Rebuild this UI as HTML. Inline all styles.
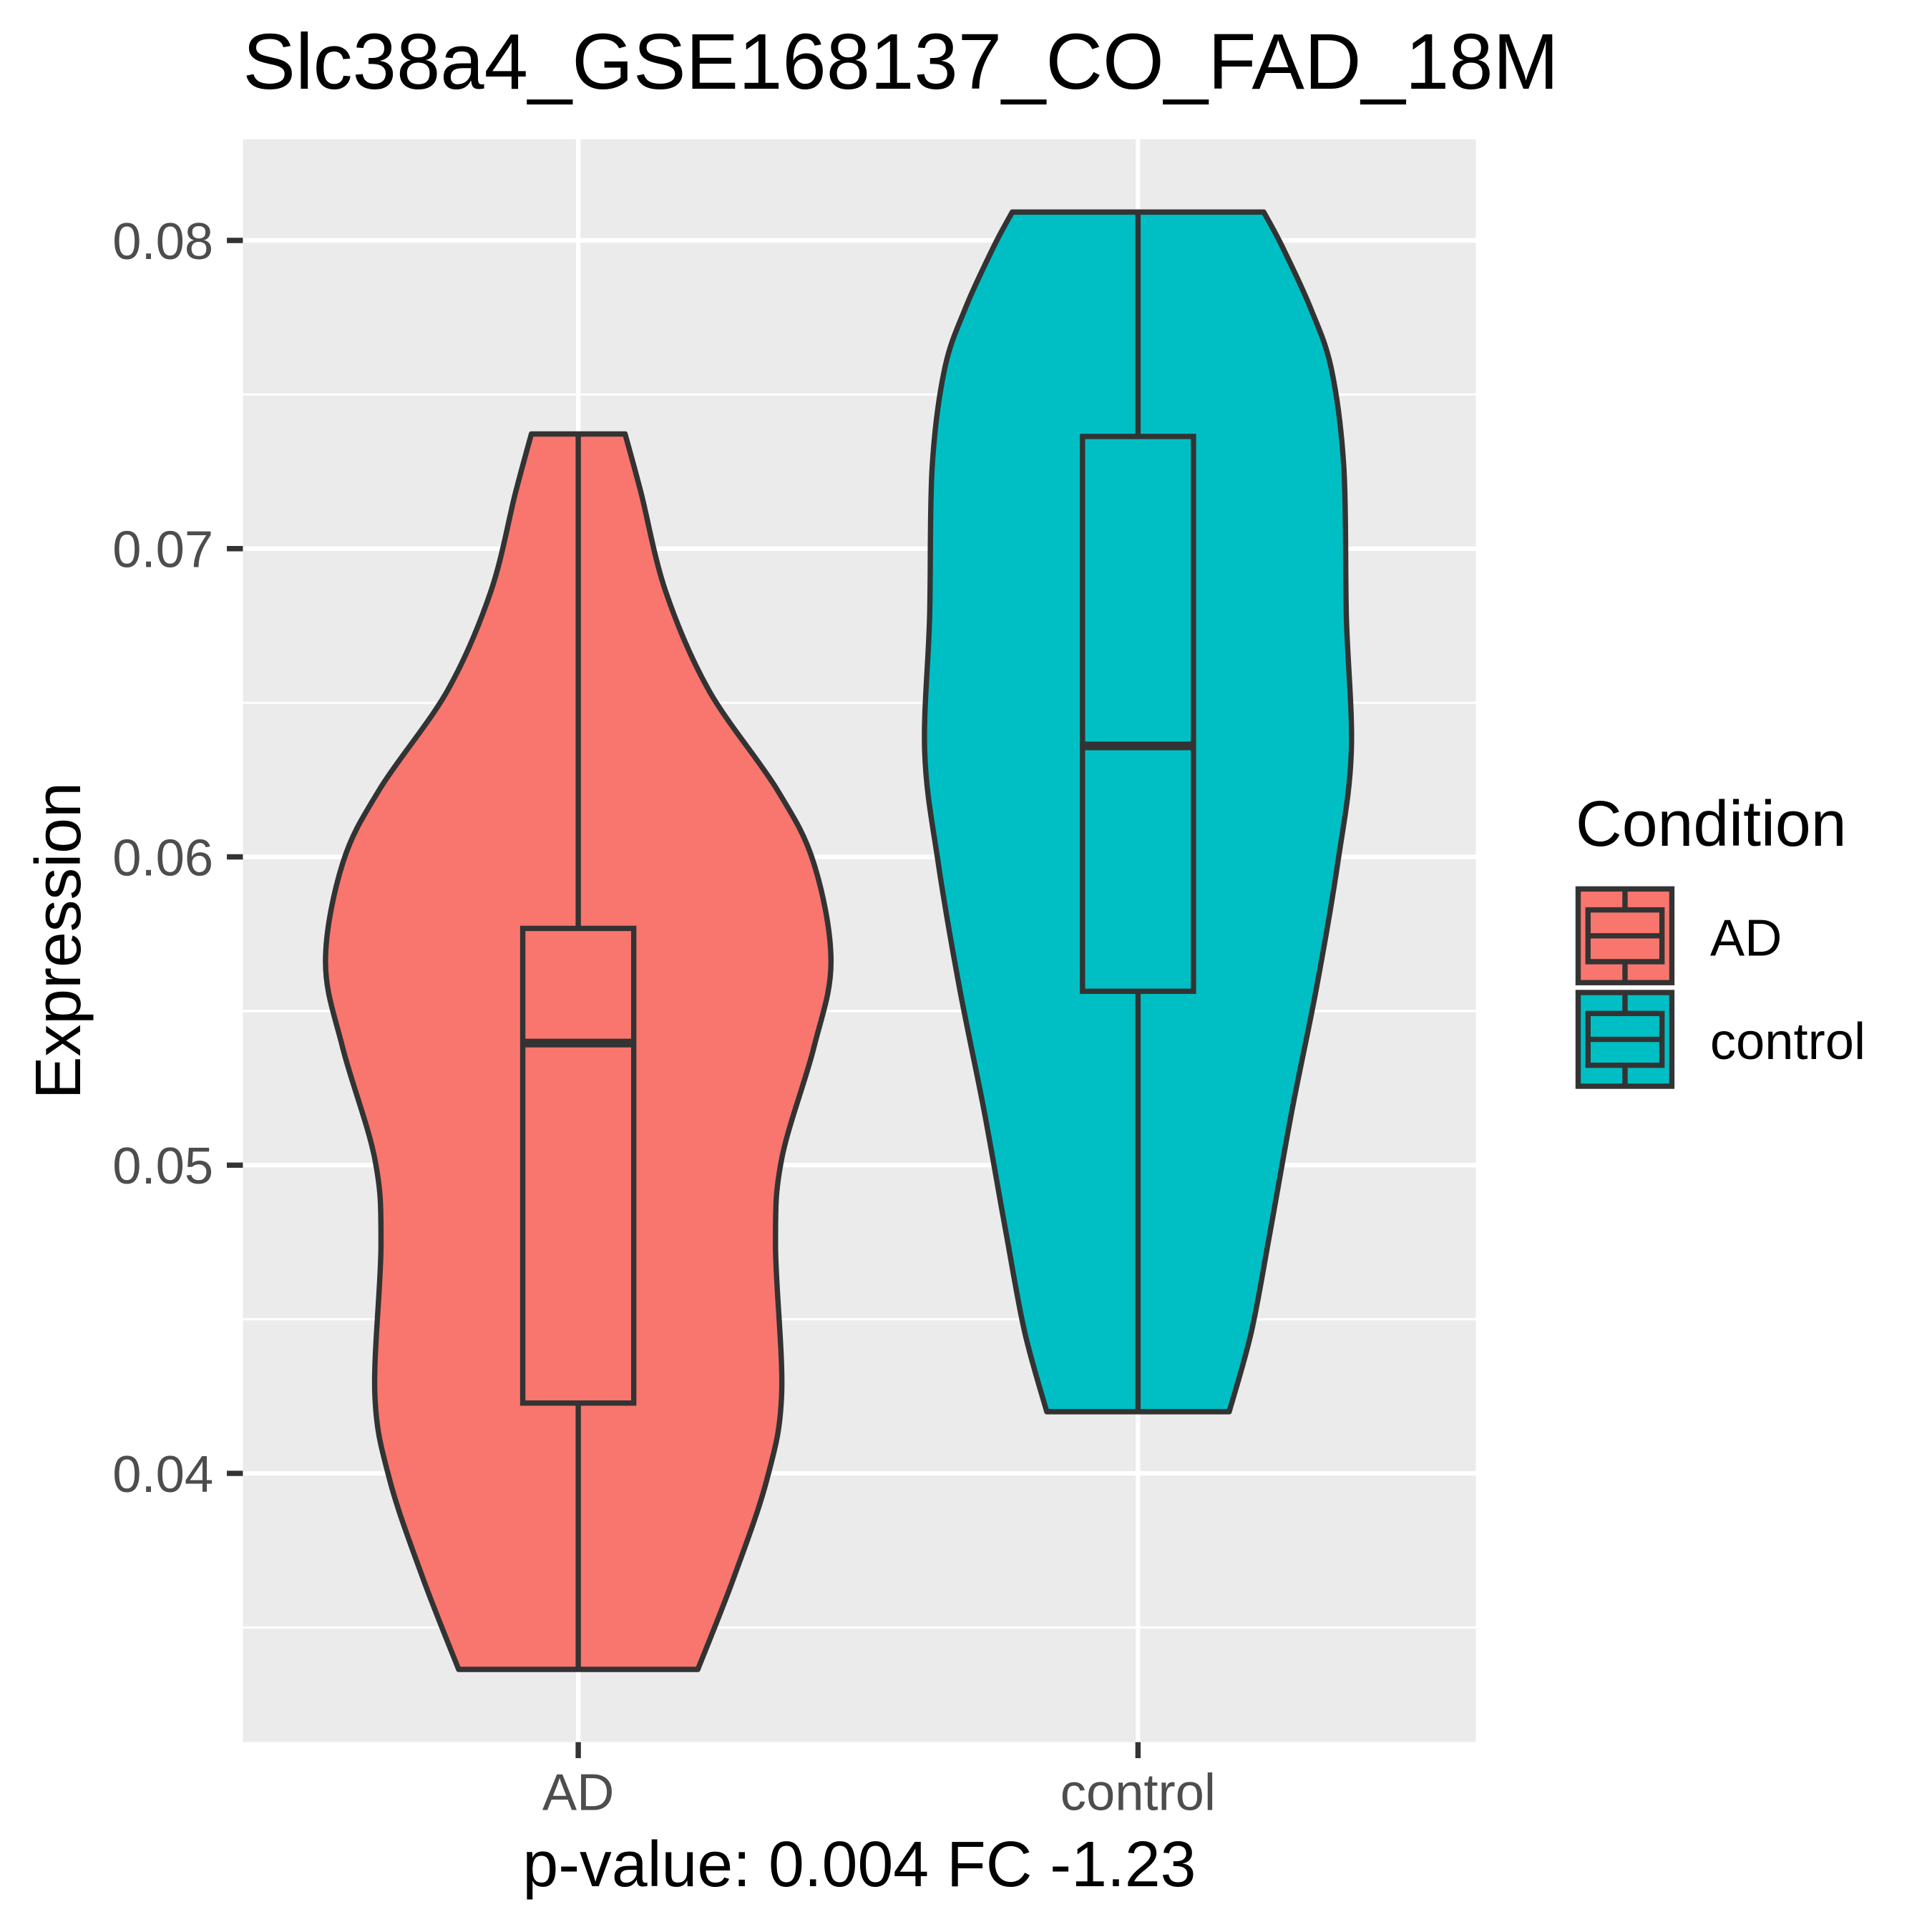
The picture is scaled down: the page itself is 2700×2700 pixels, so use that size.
<!DOCTYPE html>
<html><head><meta charset="utf-8"><style>
html,body{margin:0;padding:0;background:#fff;}
svg{display:block;}
text{font-family:"Liberation Sans",Arial,sans-serif;}
</style></head><body>
<svg id="chart" width="2700" height="2700" viewBox="0 0 1567 1567" xmlns="http://www.w3.org/2000/svg">
<rect x="0" y="0" width="1567" height="1567" fill="#fff"/>
<text x="197" y="72" font-size="64" fill="#000">Slc38a4_GSE168137_CO_FAD_18M</text>
<rect x="197" y="113" width="1000" height="1300" fill="#ebebeb"/>
<g id="grid"></g>
<g id="marks"></g>
<g id="axes"></g>
<text x="697" y="1530" font-size="52" text-anchor="middle" fill="#000">p-value: 0.004 FC -1.23</text>
<text transform="translate(65,763) rotate(-90)" font-size="52" text-anchor="middle" fill="#000">Expression</text>
<g>
<text x="1278" y="686" font-size="52" fill="#000">Condition</text>
<g id="legend-keys"></g>
</g>
</svg>
<script>
const categories = ["AD", "control"];
const fills = ["#F8766D", "#00BFC4"];
const yTicks = [0.04, 0.05, 0.06, 0.07, 0.08];
const yTickLabels = ["0.04", "0.05", "0.06", "0.07", "0.08"];
const yMinor = [0.035, 0.045, 0.055, 0.065, 0.075];
const adVals = [0.07372, 0.0718, 0.0686, 0.0654, 0.0622, 0.0598, 0.0566, 0.0538, 0.0502, 0.0474, 0.0426, 0.0398, 0.0366, 0.03364];
const adDens = [38, 51, 71, 106, 161, 191, 205, 191, 165, 160, 165, 153, 126, 97];
const ctVals = [0.08092, 0.0798, 0.0778, 0.0758, 0.0726, 0.0678, 0.0634, 0.0598, 0.0558, 0.0518, 0.0478, 0.0446, 0.0420];
const ctDens = [102, 117, 140, 157, 167, 169, 173, 162, 145, 125, 107, 92, 74];
const adBox = [0.03364, 0.04228, 0.05396, 0.05768, 0.07372];
const ctBox = [0.04200, 0.05564, 0.06360, 0.07364, 0.08092];

const NS = "http://www.w3.org/2000/svg";
const P = {x0:197, x1:1197, y0:113, y1:1413};
const yScale = v => 195 + (0.08 - v) * 25000;
const xScale = i => 469 + i * 454;
const densScale = d => d;
const boxHalf = 45;
const SW = 4.3;
function mk(tag, attrs, parent){const e=document.createElementNS(NS,tag);for(const k in attrs)e.setAttribute(k,attrs[k]);parent.appendChild(e);return e;}
const grid=document.getElementById('grid'), marks=document.getElementById('marks'), axes=document.getElementById('axes');
yMinor.forEach(v=>{const l=mk('line',{x1:P.x0,x2:P.x1,y1:yScale(v),y2:yScale(v),stroke:'#fff','stroke-width':1.8},grid);

});
yTicks.forEach(v=>{const l=mk('line',{x1:P.x0,x2:P.x1,y1:yScale(v),y2:yScale(v),stroke:'#fff','stroke-width':3.6},grid);

});
categories.forEach((c,i)=>{const l=mk('line',{x1:xScale(i),x2:xScale(i),y1:P.y0,y2:P.y1,stroke:'#fff','stroke-width':3.6},grid);

});

function smooth(pts){let d='';for(let i=0;i<pts.length-1;i++){const p0=pts[Math.max(0,i-1)],p1=pts[i],p2=pts[i+1],p3=pts[Math.min(pts.length-1,i+2)];
const c1=[p1[0]+(p2[0]-p0[0])/6,p1[1]+(p2[1]-p0[1])/6],c2=[p2[0]-(p3[0]-p1[0])/6,p2[1]-(p3[1]-p1[1])/6];
d+=` C${c1[0]},${c1[1]} ${c2[0]},${c2[1]} ${p2[0]},${p2[1]}`;}return d;}
function violin(i, vals, dens, box){
  const cx=xScale(i);
  const right=vals.map((v,k)=>[cx+densScale(dens[k]),yScale(v)]);
  const left=vals.map((v,k)=>[cx-densScale(dens[k]),yScale(v)]).reverse();
  let d=`M${cx},${yScale(vals[0])} L${right[0][0]},${right[0][1]}`+smooth(right)+` L${left[0][0]},${left[0][1]}`+smooth(left)+' Z';
  const p=mk('path',{d:d,fill:fills[i],stroke:'#333','stroke-width':SW,'stroke-linejoin':'round'},marks);
  
  
  const w1=mk('line',{x1:cx,x2:cx,y1:yScale(box[0]),y2:yScale(box[1]),stroke:'#333','stroke-width':SW},marks);
  
  
  const w2=mk('line',{x1:cx,x2:cx,y1:yScale(box[3]),y2:yScale(box[4]),stroke:'#333','stroke-width':SW},marks);
  
  
  const r=mk('rect',{x:cx-boxHalf,y:yScale(box[3]),width:boxHalf*2,height:yScale(box[1])-yScale(box[3]),fill:fills[i],stroke:'#333','stroke-width':SW},marks);
  
  
  const m=mk('line',{x1:cx-boxHalf,x2:cx+boxHalf,y1:yScale(box[2]),y2:yScale(box[2]),stroke:'#333','stroke-width':7},marks);
  
  
}
violin(0, adVals, adDens, adBox);
violin(1, ctVals, ctDens, ctBox);

yTicks.forEach((v,k)=>{const t=mk('line',{x1:184,x2:197,y1:yScale(v),y2:yScale(v),stroke:'#333','stroke-width':SW},axes);


const tx=mk('text',{x:173,y:yScale(v)+15,'font-size':42,'text-anchor':'end',fill:'#4d4d4d'},axes);tx.textContent=yTickLabels[k];

});
categories.forEach((c,i)=>{const t=mk('line',{x1:xScale(i),x2:xScale(i),y1:1413,y2:1426,stroke:'#333','stroke-width':SW},axes);


const tx=mk('text',{x:xScale(i),y:1468,'font-size':42,'text-anchor':'middle',fill:'#4d4d4d'},axes);tx.textContent=c;

});

const lk=document.getElementById('legend-keys');
categories.forEach((c,i)=>{const y0=721+i*84;const g=mk('g',{},lk);


mk('rect',{x:1280,y:y0,width:76,height:76,fill:fills[i],stroke:'#333','stroke-width':SW},g);
mk('line',{x1:1318,x2:1318,y1:y0+2,y2:y0+74,stroke:'#333','stroke-width':SW},g);
mk('rect',{x:1288,y:y0+17,width:60,height:42,fill:fills[i],stroke:'#333','stroke-width':SW},g);
mk('line',{x1:1288,x2:1348,y1:y0+38,y2:y0+38,stroke:'#333','stroke-width':SW},g);
const tx=mk('text',{x:1387,y:y0+54,'font-size':42,fill:'#000'},g);tx.textContent=c;});
</script>
</body></html>
